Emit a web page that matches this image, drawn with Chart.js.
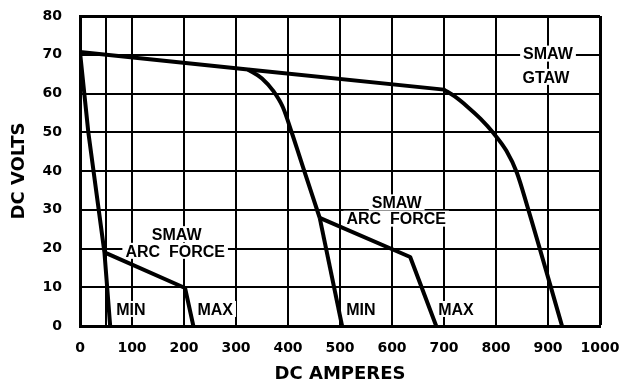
<!DOCTYPE html>
<html>
<head>
<meta charset="utf-8">
<script src="https://cdn.jsdelivr.net/npm/chart.js@4"></script>
<style>
  html, body { margin: 0; padding: 0; background: #fff; }
</style>
</head>
<body>
<canvas id="vaCurves" width="621" height="385"></canvas>
<script>
// volt-ampere curves, amps on x, volts on y
const topAmps = [0, 323, 700];
const topVolts = [70.7, 66.2, 61.0];

const gtawAmps = [700, 720, 745, 770, 795, 820, 840, 860, 927];
const gtawVolts = [61.0, 59.3, 56.6, 53.5, 49.8, 45.2, 39.6, 31.0, 0];

const midAmps = [323, 350, 372, 390, 407, 425, 445, 461];
const midVolts = [66.2, 63.9, 60.6, 56.5, 50.0, 42.6, 34.4, 27.9];

const midTailAmps = [461, 504];
const midTailVolts = [27.9, 0];

const minAmps = [0, 16, 47, 58];
const minVolts = [70.7, 50, 19, 0];

const arcLowAmps = [47, 202, 218];
const arcLowVolts = [19, 9.8, 0];

const arcHighAmps = [461, 635, 685];
const arcHighVolts = [27.9, 17.8, 0];

// axis ticks (50 only gets a grid line)
const xTickValues = [0, 50, 100, 200, 300, 400, 500, 600, 700, 800, 900, 1000];
const xTickLabels = [0, 100, 200, 300, 400, 500, 600, 700, 800, 900, 1000];
const yTickLabels = [0, 10, 20, 30, 40, 50, 60, 70, 80];

// curve annotations
const noteText = ["SMAW", "GTAW", "SMAW", "ARC  FORCE", "SMAW", "ARC  FORCE", "MIN", "MAX", "MIN", "MAX"];
const noteAmps = [900, 896, 186, 183, 609, 608, 98, 260, 540, 723];
const noteVolts = [70.3, 64.3, 23.7, 19.4, 31.9, 27.7, 4.4, 4.4, 4.4, 4.4];

const pts = (xs, ys) => xs.map((v, i) => ({ x: v, y: ys[i] }));

const curve = (xs, ys, smooth) => ({
    data: pts(xs, ys),
    borderColor: "#000",
    borderWidth: 4,
    borderJoinStyle: "round",
    pointRadius: 0,
    cubicInterpolationMode: smooth ? "monotone" : "default",
    tension: 0,
    fill: false
});

const tickFont = { family: "'DejaVu Sans', sans-serif", size: 14, weight: "bold" };
const titleFont = { family: "'DejaVu Sans', sans-serif", size: 18, weight: "bold" };

// text boxes with white backing so grid lines break around them
const curveLabels = {
    id: "curveLabels",
    beforeDatasetsDraw(chart) {
        const { ctx, scales: { x, y } } = chart;
        ctx.save();
        ctx.font = "bold 16px 'Liberation Sans', Arial, sans-serif";
        ctx.textAlign = "center";
        ctx.textBaseline = "alphabetic";
        noteText.forEach((t, i) => {
            const px = x.getPixelForValue(noteAmps[i]);
            const py = y.getPixelForValue(noteVolts[i]);
            const w = ctx.measureText(t).width;
            ctx.fillStyle = "#fff";
            ctx.fillRect(px - w / 2 - 3, py - 8, w + 6, 16);
            ctx.fillStyle = "#000";
            ctx.fillText(t, px, py + 5.7);
        });
        ctx.restore();
    }
};

new Chart(document.getElementById("vaCurves"), {
    type: "line",
    data: {
        datasets: [
            curve(topAmps, topVolts, false),
            curve(gtawAmps, gtawVolts, true),
            curve(midAmps, midVolts, true),
            curve(midTailAmps, midTailVolts, false),
            curve(minAmps, minVolts, false),
            curve(arcLowAmps, arcLowVolts, false),
            curve(arcHighAmps, arcHighVolts, false)
        ]
    },
    options: {
        responsive: false,
        animation: false,
        layout: { padding: { left: 0, right: 21, top: 16, bottom: 0 } },
        plugins: { legend: { display: false }, tooltip: { enabled: false } },
        scales: {
            x: {
                type: "linear",
                min: 0,
                max: 1000,
                afterBuildTicks: (s) => { s.ticks = xTickValues.map(v => ({ value: v })); },
                afterFit: (s) => { s.height = 59; s.paddingLeft = 0; s.paddingRight = 0; },
                grid: {
                    color: "#000",
                    lineWidth: (c) => (c.tick && c.tick.value === 1000 ? 3 : 2),
                    drawTicks: false
                },
                border: { color: "#000", width: 3 },
                ticks: {
                    color: "#000",
                    font: tickFont,
                    padding: 14,
                    maxRotation: 0,
                    autoSkip: false,
                    callback: (v) => (xTickLabels.includes(v) ? v : "")
                },
                title: {
                    display: true,
                    text: "DC AMPERES",
                    color: "#000",
                    font: titleFont,
                    padding: { top: 1, bottom: 0 }
                }
            },
            y: {
                min: 0,
                max: 80,
                afterBuildTicks: (s) => { s.ticks = yTickLabels.map(v => ({ value: v })); },
                afterFit: (s) => { s.width = 80; s.paddingTop = 0; s.paddingBottom = 0; },
                grid: {
                    color: "#000",
                    lineWidth: (c) => (c.tick && c.tick.value === 80 ? 3 : 2),
                    drawTicks: false
                },
                border: { color: "#000", width: 3 },
                ticks: {
                    color: "#000",
                    font: tickFont,
                    padding: 18
                },
                title: {
                    display: true,
                    text: "DC VOLTS",
                    color: "#000",
                    font: titleFont,
                    padding: { top: 9, bottom: 0 }
                }
            }
        }
    },
    plugins: [curveLabels]
});
</script>
</body>
</html>
